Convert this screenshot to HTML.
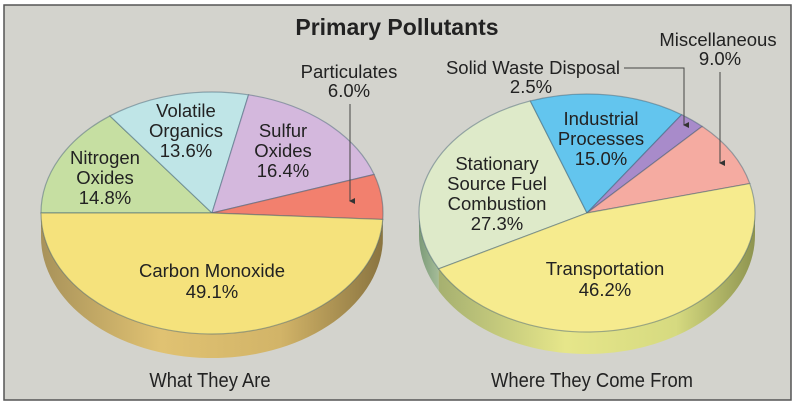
<!DOCTYPE html>
<html><head><meta charset="utf-8">
<style>
html,body{margin:0;padding:0;background:#fff;}
#wrap{position:relative;width:796px;height:406px;overflow:hidden;background:#fff;}
svg{display:block;}
text{font-family:"Liberation Sans",sans-serif;fill:#222;}
</style></head>
<body>
<div id="wrap">
<svg id="svg" width="796" height="406" viewBox="0 0 796 406">
  <defs>
    <linearGradient id="gSideL" x1="0" x2="1" y1="0" y2="0">
      <stop offset="0" stop-color="#a8925a"/><stop offset="0.35" stop-color="#e0c272"/><stop offset="0.7" stop-color="#d2b468"/><stop offset="1" stop-color="#8a7440"/>
    </linearGradient>
    <linearGradient id="gSideR" x1="0" x2="1" y1="0" y2="0">
      <stop offset="0" stop-color="#a6b070"/><stop offset="0.4" stop-color="#e6e68a"/><stop offset="0.75" stop-color="#d6da80"/><stop offset="1" stop-color="#8e9450"/>
    </linearGradient>
    <linearGradient id="gSideG" x1="0" x2="1" y1="0" y2="0">
      <stop offset="0" stop-color="#7c9a78"/><stop offset="1" stop-color="#a4bc98"/>
    </linearGradient>
    <marker id="arr" markerWidth="6" markerHeight="6" refX="3" refY="5" orient="auto-start-reverse" markerUnits="userSpaceOnUse">
      <path d="M0,0 L3,6 L6,0 Z" fill="#333"/>
    </marker>
  </defs>
  <rect x="4" y="5" width="787" height="395" fill="#d3d3cd" stroke="#555" stroke-width="1.5"/>
  <text x="397" y="35" text-anchor="middle" font-size="23" font-weight="bold">Primary Pollutants</text>
  <g id="pieL"></g>
  <g id="pieR"></g>
  <g font-size="18.5" text-anchor="middle">
    <text x="212" y="277">Carbon Monoxide</text>
    <text x="212" y="298">49.1%</text>
    <text x="105" y="164">Nitrogen</text>
    <text x="105" y="184">Oxides</text>
    <text x="105" y="204">14.8%</text>
    <text x="186" y="117">Volatile</text>
    <text x="186" y="137">Organics</text>
    <text x="186" y="157">13.6%</text>
    <text x="283" y="137">Sulfur</text>
    <text x="283" y="157">Oxides</text>
    <text x="283" y="177">16.4%</text>
    <text x="349" y="78">Particulates</text>
    <text x="349" y="97">6.0%</text>
    <text x="533" y="74">Solid Waste Disposal</text>
    <text x="531" y="93">2.5%</text>
    <text x="718" y="46">Miscellaneous</text>
    <text x="720" y="65">9.0%</text>
    <text x="601" y="125">Industrial</text>
    <text x="601" y="145">Processes</text>
    <text x="601" y="165">15.0%</text>
    <text x="497" y="170">Stationary</text>
    <text x="497" y="190">Source Fuel</text>
    <text x="497" y="210">Combustion</text>
    <text x="497" y="230">27.3%</text>
    <text x="605" y="275">Transportation</text>
    <text x="605" y="296">46.2%</text>
  </g>
  <g font-size="20" text-anchor="middle">
    <text x="210" y="387" transform="translate(210 0) scale(0.92 1) translate(-210 0)">What They Are</text>
    <text x="592" y="387" transform="translate(592 0) scale(0.92 1) translate(-592 0)">Where They Come From</text>
  </g>
  <g stroke="#444" stroke-width="1" fill="none">
    <line x1="350" y1="104" x2="350" y2="201" marker-end="url(#arr)"/>
    <polyline points="624,68 684,68 684,125" marker-end="url(#arr)"/>
    <line x1="720" y1="72" x2="720" y2="163" marker-end="url(#arr)"/>
  </g>
</svg>
</div>
<script>
// Left pie: What They Are (percent)
const leftCategories = ["Nitrogen Oxides","Volatile Organics","Sulfur Oxides","Particulates","Carbon Monoxide"];
const leftValues = [14.8, 13.6, 16.4, 6.0, 49.1];
// Right pie: Where They Come From (percent)
const rightCategories = ["Stationary Source Fuel Combustion","Industrial Processes","Solid Waste Disposal","Miscellaneous","Transportation"];
const rightValues = [27.3, 15.0, 2.5, 9.0, 46.2];

const leftColors = ["#c6dfa2","#bfe5e7","#d4b8dd","#f2806e","#f5e27c"];
const rightColors = ["#deeac9","#63c5ee","#a88bca","#f5aba1","#f6eb8e"];

const NS = "http://www.w3.org/2000/svg";
function pt(cx,cy,rx,ry,a){const r=a*Math.PI/180;return [cx+rx*Math.cos(r), cy+ry*Math.sin(r)];}
function drawPie(gid, cats, vals, colors, cx, cy, rx, ry, depth, startDeg, sideFill, sideFill2){
  const g=document.getElementById(gid);
  const total=vals.reduce((a,b)=>a+b,0);
  let a=startDeg;
  const sides=[];
  vals.forEach((v,i)=>{
    const a1=a, a2=a+v/total*360; a=a2;
    for(const off of [0,360]){
      const s=Math.max(a1-off,0), e=Math.min(a2-off,180);
      if(e>s) sides.push([s,e,i]);
    }
  });
  sides.forEach(([s,e,i])=>{
    const p1=pt(cx,cy,rx,ry,s), p2=pt(cx,cy,rx,ry,e);
    const d=`M${p1[0]},${p1[1]} A${rx},${ry} 0 0 1 ${p2[0]},${p2[1]} L${p2[0]},${p2[1]+depth} A${rx},${ry} 0 0 0 ${p1[0]},${p1[1]+depth} Z`;
    const path=document.createElementNS(NS,"path");
    path.setAttribute("d",d);
    path.setAttribute("fill", (i===vals.length-1)?sideFill:sideFill2);
    
    
    g.appendChild(path);
  });
  a=startDeg;
  vals.forEach((v,i)=>{
    const a1=a, a2=a+v/total*360; a=a2;
    const p1=pt(cx,cy,rx,ry,a1), p2=pt(cx,cy,rx,ry,a2);
    const large=(a2-a1)>180?1:0;
    const path=document.createElementNS(NS,"path");
    path.setAttribute("d",`M${cx},${cy} L${p1[0]},${p1[1]} A${rx},${ry} 0 ${large} 1 ${p2[0]},${p2[1]} Z`);
    path.setAttribute("fill",colors[i]);
    path.setAttribute("stroke","rgba(60,90,110,0.45)");
    path.setAttribute("stroke-width","1.2");
    
    
    g.appendChild(path);
  });
}
drawPie("pieL", leftCategories, leftValues, leftColors, 212, 213, 171, 121, 24, 180, "url(#gSideL)", "url(#gSideG)");
drawPie("pieR", rightCategories, rightValues, rightColors, 587, 213, 168, 119, 22, 152, "url(#gSideR)", "url(#gSideG)");
</script>
</body></html>
